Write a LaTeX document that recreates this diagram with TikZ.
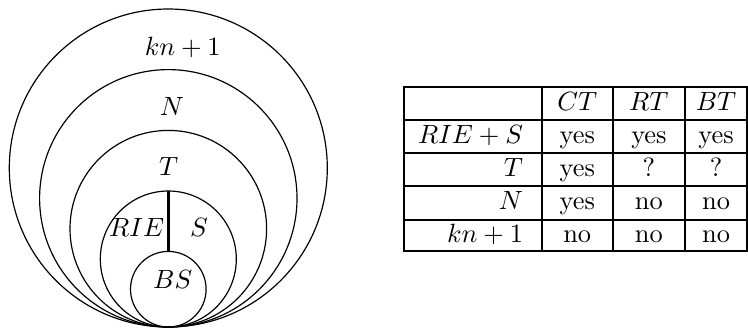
\documentclass[tikz,border=0pt]{standalone}
\begin{document}
\begin{tikzpicture}[x={(0.3788pt,0)}, y={(0,-0.3788pt)},
  ring/.style={circle, draw, line width=0.45pt, inner sep=0pt, outer sep=0pt},
  lbl/.style={inner sep=0pt, anchor=base},
  rowlbl/.style={inner sep=0pt, anchor=base east},
  rule/.style={line width=0.85pt}]
\useasboundingbox (0,0) rectangle (748,329);
% nested circles, all tangent at the bottom point
\node[ring, minimum size=318*0.3788pt]   (c1) at (168.3,168)   {};
\node[ring, minimum size=257.4*0.3788pt] (c2) at (168.3,198.3) {};
\node[ring, minimum size=196.6*0.3788pt] (c3) at (168.3,228.7) {};
\node[ring, minimum size=136*0.3788pt]   (c4) at (168.3,259)   {};
\node[ring, minimum size=75.6*0.3788pt]  (c5) at (168.3,289.2) {};
\draw[line width=1.1pt] (c4.north) -- (c5.north);
% circle labels
\node[lbl] (lkn)  at (182.7,55)  {$kn+1$};
\node[lbl] (lN)   at (172,115)   {$N$};
\node[lbl] (lT)   at (168.7,175.5) {$T$};
\node[lbl] (lRIE) at (136.7,236) {$RIE$};
\node[lbl] (lS)   at (199,236)   {$S$};
\node[lbl] (lBS)  at (172.7,288.7) {$BS$};
% table
\coordinate (tl) at (404,87);
\coordinate (br) at (747,251);
\draw[rule] (tl) rectangle (br);
\foreach \y in {120,153,186.3,219.7} \draw[rule] (404,\y) -- (747,\y);
\foreach \x in {541.7,612.7,685} \draw[rule] (\x,87) -- (\x,251);
% header
\node[lbl] (hCT) at (577.2,110.3) {$CT$};
\node[lbl] (hRT) at (648.9,110.3) {$RT$};
\node[lbl] (hBT) at (716,110.3)   {$BT$};
% rows
\node[rowlbl] (r1) at (523.5,143.3) {$RIE+S$};
\node[lbl] (r1a) at (577.2,143.3) {yes};
\node[lbl] (r1b) at (648.9,143.3) {yes};
\node[lbl] (r1c) at (716,143.3)   {yes};
\node[rowlbl] (r2) at (523.5,176.5) {$T$};
\node[lbl] (r2a) at (577.2,176.5) {yes};
\node[lbl] (r2b) at (648.9,176.5) {?};
\node[lbl] (r2c) at (716,176.5)   {?};
\node[rowlbl] (r3) at (523.5,209.5) {$N$};
\node[lbl] (r3a) at (577.2,209.5) {yes};
\node[lbl] (r3b) at (648.9,209.5) {no};
\node[lbl] (r3c) at (716,209.5)   {no};
\node[rowlbl] (r4) at (523.5,242.8) {$kn+1$};
\node[lbl] (r4a) at (577.2,242.8) {no};
\node[lbl] (r4b) at (648.9,242.8) {no};
\node[lbl] (r4c) at (716,242.8)   {no};
\end{tikzpicture}
\end{document}
